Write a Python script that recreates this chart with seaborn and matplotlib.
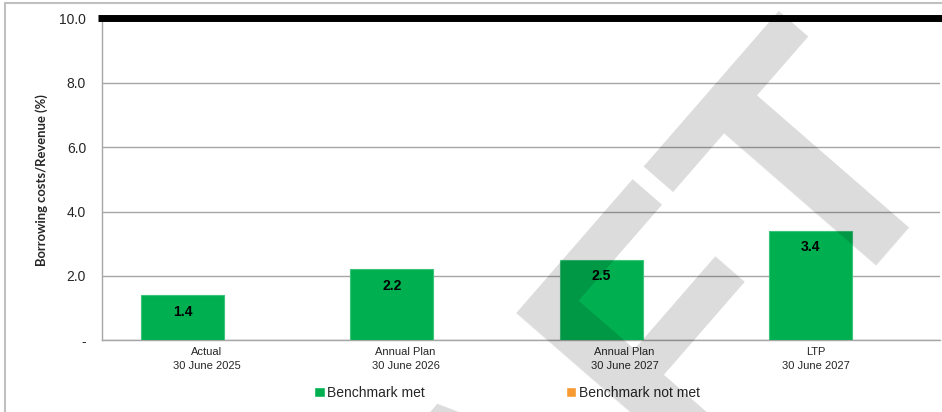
import matplotlib
matplotlib.use("Agg")
import matplotlib.pyplot as plt
import matplotlib.transforms as mtransforms
from matplotlib.patches import Patch
from matplotlib.lines import Line2D
import seaborn as sns
import pandas as pd

# ---- data -------------------------------------------------------------
periods = ["Actual\n30 June 2025", "Annual Plan\n30 June 2026",
           "Annual Plan\n30 June 2027", "LTP\n30 June 2027"]
ratio = [1.4, 2.2, 2.5, 3.4]
benchmark_limit = 10.0
y_ticks = [0, 2, 4, 6, 8, 10]
y_tick_labels = ["-", "2.0", "4.0", "6.0", "8.0", "10.0"]
legend_labels = ["Benchmark met", "Benchmark not met"]

# ---- style ------------------------------------------------------------
MET = "#00B050"
NOT_MET = "#F79A32"
GRID = "#A6A6A6"
BORDER = "#C0C0C0"

sns.set_style("white")
plt.rcParams["font.family"] = ["Liberation Sans", "DejaVu Sans"]

W, H = 942, 412
fig = plt.figure(figsize=(W / 100, H / 100), dpi=100)
ax = fig.add_axes([102 / W, 1 - 340.3 / H, 838 / W, 322 / H])

df = pd.DataFrame({"period": periods, "ratio": ratio})
sns.barplot(data=df, x="period", y="ratio", color=MET, saturation=1,
            width=0.397, edgecolor="#3CC47A", linewidth=0.8, ax=ax, zorder=3)

ax.set_ylim(0, 10)
ax.set_xlim(-0.3846, 3.6186)

# gridlines and axes
ax.yaxis.grid(True, color=GRID, linewidth=1.0, zorder=0)
ax.set_axisbelow(True)
for side in ("top", "right"):
    ax.spines[side].set_visible(False)
for side in ("left", "bottom"):
    ax.spines[side].set_color(GRID)
    ax.spines[side].set_linewidth(1.0)

ax.set_yticks(y_ticks, y_tick_labels, fontsize=10)
ax.tick_params(axis="y", length=3, color=GRID, width=1, pad=8.5)

# category labels sit slightly right of the bars
label_shift = [0.117, 0.066, 0.112, 0.027]
ax.set_xticks([i + s for i, s in enumerate(label_shift)], periods, fontsize=8)
ax.tick_params(axis="x", length=0, pad=5)
for lbl in ax.get_xticklabels():
    lbl.set_linespacing(1.45)
ax.set_xlabel("")
ax.set_ylabel("")

# benchmark limit line
trans = mtransforms.blended_transform_factory(ax.transAxes, ax.transData)
ax.plot([-0.0048, 1.0024], [benchmark_limit, benchmark_limit], transform=trans,
        color="black", linewidth=5, solid_capstyle="butt", clip_on=False, zorder=5)

# value labels inside the top of each bar
for container in ax.containers:
    ax.bar_label(container, fmt="%.1f", padding=-17, fontsize=10,
                 fontweight="bold", color="black")

fig.text(42 / W, 1 - 180.5 / H, "Borrowing costs/Revenue (%)", rotation=90,
         ha="center", va="center", fontsize=9.4, fontweight="bold",
         family=["Lato", "DejaVu Sans"])

handles = [Patch(facecolor=MET, label=legend_labels[0]),
           Patch(facecolor=NOT_MET, label=legend_labels[1])]
fig.legend(handles=handles, loc="center", bbox_to_anchor=(0.538, 0.046),
           ncol=2, frameon=False, fontsize=10, handlelength=0.75,
           handleheight=0.75, handletextpad=0.15, columnspacing=10.2)

# frame lines
fig.add_artist(Line2D([5 / W, 5 / W], [0, 1 - 3 / H], transform=fig.transFigure,
                      color=BORDER, linewidth=1.5))
fig.add_artist(Line2D([5 / W, 1], [1 - 3 / H, 1 - 3 / H], transform=fig.transFigure,
                      color=BORDER, linewidth=1.5))

# watermark
fig.text(955 / W, 1 - 147 / H, "DRAFT", fontsize=252, fontweight="bold",
         color="black", alpha=0.14, rotation=49, rotation_mode="anchor",
         ha="right", va="baseline", zorder=10)

fig.savefig("out.png", dpi=100)
